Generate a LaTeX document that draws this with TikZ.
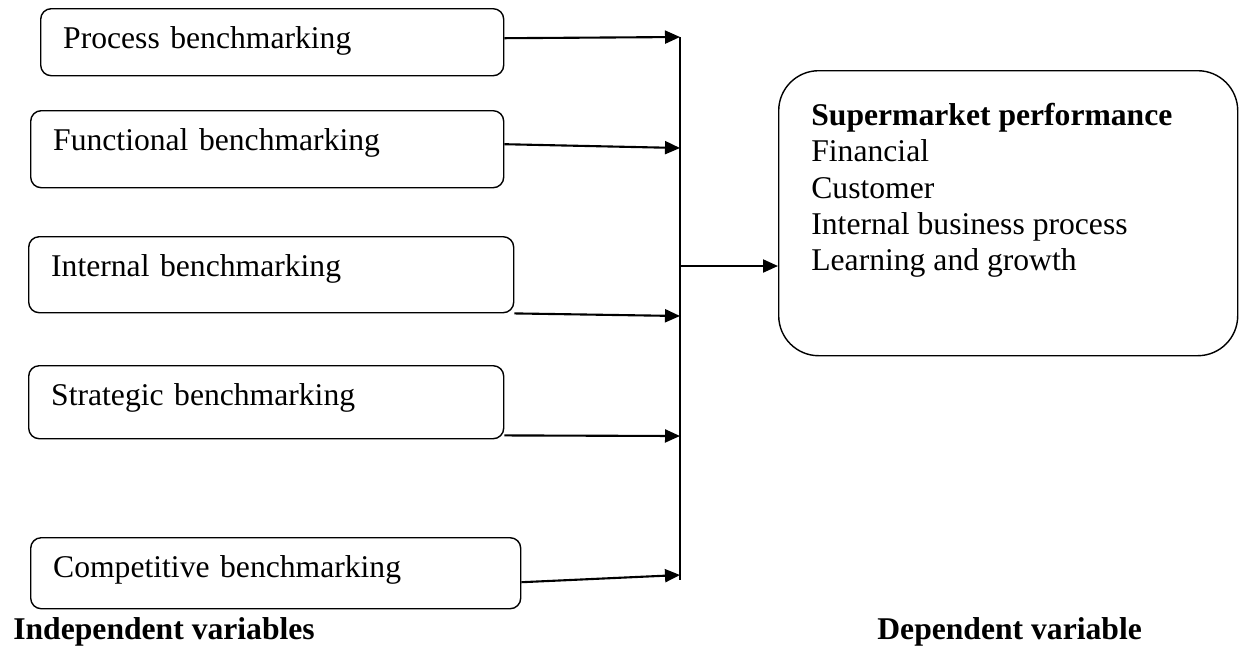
\documentclass[tikz,border=0pt]{standalone}
\usepackage{fontspec}
\setmainfont{Liberation Serif}
\usetikzlibrary{arrows.meta}

\begin{document}
\begin{tikzpicture}[
    every node/.style={font=\fontsize{18}{20.6}\selectfont},
    bmbox/.style={draw, line width=0.8pt, rounded corners=6pt, anchor=north west,
        align=left, inner xsep=0.45cm, inner ysep=0.35cm, text height=0.45cm},
    feed/.style={line width=1.2pt, -{Triangle[length=0.3cm,width=0.26cm]}},
    caption/.style={anchor=west, inner sep=0pt, font=\fontsize{18}{20.6}\selectfont\bfseries}
]
    \useasboundingbox (0,0) rectangle (24.78,-13.04);

    % independent variables
    \node[bmbox, text width=8.36cm, text depth=0.19cm] (proc)  at (0.80,-0.16)  {Process benchmarking};
    \node[bmbox, text width=8.56cm, text depth=0.39cm] (func)  at (0.60,-2.20)  {Functional benchmarking};
    \node[bmbox, text width=8.80cm, text depth=0.37cm] (inter) at (0.56,-4.72)  {Internal benchmarking};
    \node[bmbox, text width=8.60cm, text depth=0.31cm] (strat) at (0.56,-7.30)  {Strategic benchmarking};
    \node[bmbox, text width=8.90cm, text depth=0.27cm] (comp)  at (0.60,-10.74) {Competitive benchmarking};

    % dependent variable
    \node[draw, line width=0.8pt, rounded corners=0.8cm, anchor=north west,
        minimum width=9.18cm, minimum height=5.7cm] (perf) at (15.56,-1.40) {};
    \node[anchor=north west, align=left, inner sep=0pt] (perftxt) at (16.22,-2.06)
        {\textbf{Supermarket performance}\\ Financial\\ Customer\\ Internal business process\\ Learning and growth};

    % bus line
    \coordinate (btop) at (13.6,-0.74);
    \coordinate (bbot) at (13.6,-11.60);
    \coordinate (b1) at (13.6,-0.74);
    \coordinate (b2) at (13.6,-2.96);
    \coordinate (b3) at (13.6,-6.32);
    \coordinate (b4) at (13.6,-8.72);
    \coordinate (b5) at (13.6,-11.50);
    \coordinate (bm) at (13.6,-5.32);
    \draw[line width=0.8pt] (btop) -- (bbot);

    \draw[feed] ([yshift=0.08cm]proc.east) -- (b1);
    \draw[feed] ([yshift=0.1cm]func.east) -- (b2);
    \draw[feed] (inter.south east) -- (b3);
    \draw[feed] ([yshift=0.08cm]strat.south east) -- (b4);
    \draw[feed] ([yshift=-0.18cm]comp.east) -- (b5);
    \draw[feed] (bm) -- (bm -| perf.west);

    % captions
    \node[caption] (indep) at (0.26,-12.64) {Independent variables};
    \node[caption] (dep) at (17.54,-12.64) {Dependent variable};

\end{tikzpicture}
\end{document}
